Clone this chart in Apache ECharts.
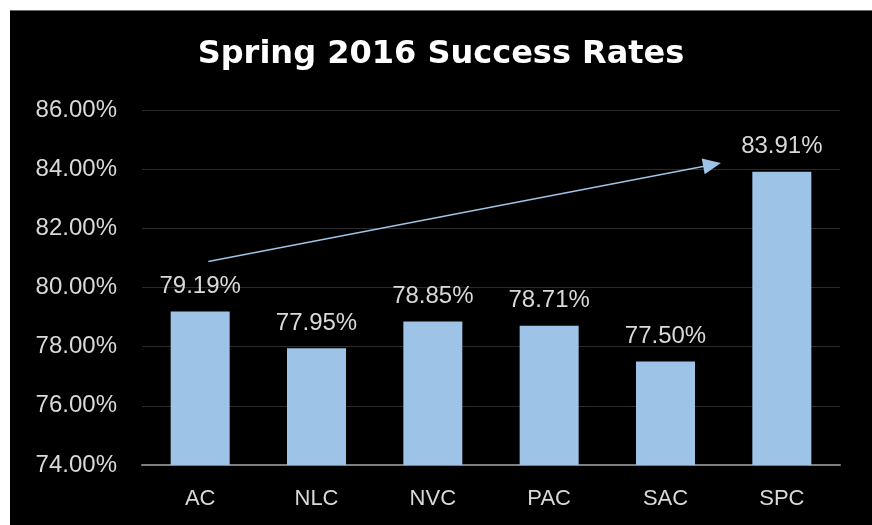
<!DOCTYPE html>
<html>
<head>
<meta charset="utf-8">
<script src="https://cdn.jsdelivr.net/npm/echarts@6/dist/echarts.min.js"></script>
<style>
  html, body { margin: 0; padding: 0; background: #fff; }
  #wrap { position: relative; width: 872px; height: 525px; overflow: hidden; }
  #chart { position: absolute; left: 10px; top: 10px; width: 862px; height: 515px;
           background: #000; border-top: 1px solid #6b6b6b; box-sizing: border-box; }
</style>
</head>
<body>
<div id="wrap"><div id="chart"></div></div>
<script>
var colleges = ['AC', 'NLC', 'NVC', 'PAC', 'SAC', 'SPC'];
var successRates = [79.19, 77.95, 78.85, 78.71, 77.50, 83.91];
// trend arrow drawn over the bars: [position along categories (0 = AC), value]
var arrowFrom = [0.07, 80.88];
var arrowTo = [4.40, 84.15];

var myChart = echarts.init(document.getElementById('chart'));

var option = {
    backgroundColor: '#000',
    animation: false,
    title: {
        text: 'Spring 2016 Success Rates',
        left: 'center',
        top: 23,
        textStyle: {
            color: '#fff',
            fontFamily: 'DejaVu Sans',
            fontWeight: 'bold',
            fontSize: 32
        }
    },
    grid: {
        left: 132,
        right: 32,
        top: 99,
        bottom: 60
    },
    xAxis: [{
        type: 'category',
        data: colleges,
        axisTick: { show: false },
        axisLine: { lineStyle: { color: '#7f7f7f', width: 2 } },
        axisLabel: {
            color: '#d9d9d9',
            fontFamily: 'Liberation Sans',
            fontSize: 22,
            margin: 23
        }
    }, {
        // hidden helper axis so the arrow can sit between category centres
        type: 'value',
        min: -0.5,
        max: colleges.length - 0.5,
        show: false
    }],
    yAxis: {
        type: 'value',
        min: 74,
        max: 86,
        interval: 2,
        axisLine: { show: false },
        axisTick: { show: false },
        splitLine: { lineStyle: { color: '#2a2a2a', width: 1 } },
        axisLabel: {
            color: '#d9d9d9',
            fontFamily: 'Liberation Sans',
            fontSize: 24,
            margin: 25,
            formatter: function (v) { return v.toFixed(2) + '%'; }
        }
    },
    series: [{
        type: 'bar',
        data: successRates,
        barWidth: 59,
        itemStyle: { color: '#9dc3e6' },
        label: {
            show: true,
            position: 'top',
            distance: 13,
            color: '#d9d9d9',
            fontFamily: 'Liberation Sans',
            fontSize: 24,
            formatter: function (p) { return p.value.toFixed(2) + '%'; }
        }
    }, {
        type: 'line',
        xAxisIndex: 1,
        data: [],
        markLine: {
            silent: true,
            symbol: ['none', 'triangle'],
            symbolSize: [16, 18],
            label: { show: false },
            lineStyle: { color: '#9dc3e6', width: 1.5, type: 'solid' },
            data: [[{ coord: arrowFrom }, { coord: arrowTo }]]
        }
    }]
};

myChart.setOption(option);
</script>
</body>
</html>
